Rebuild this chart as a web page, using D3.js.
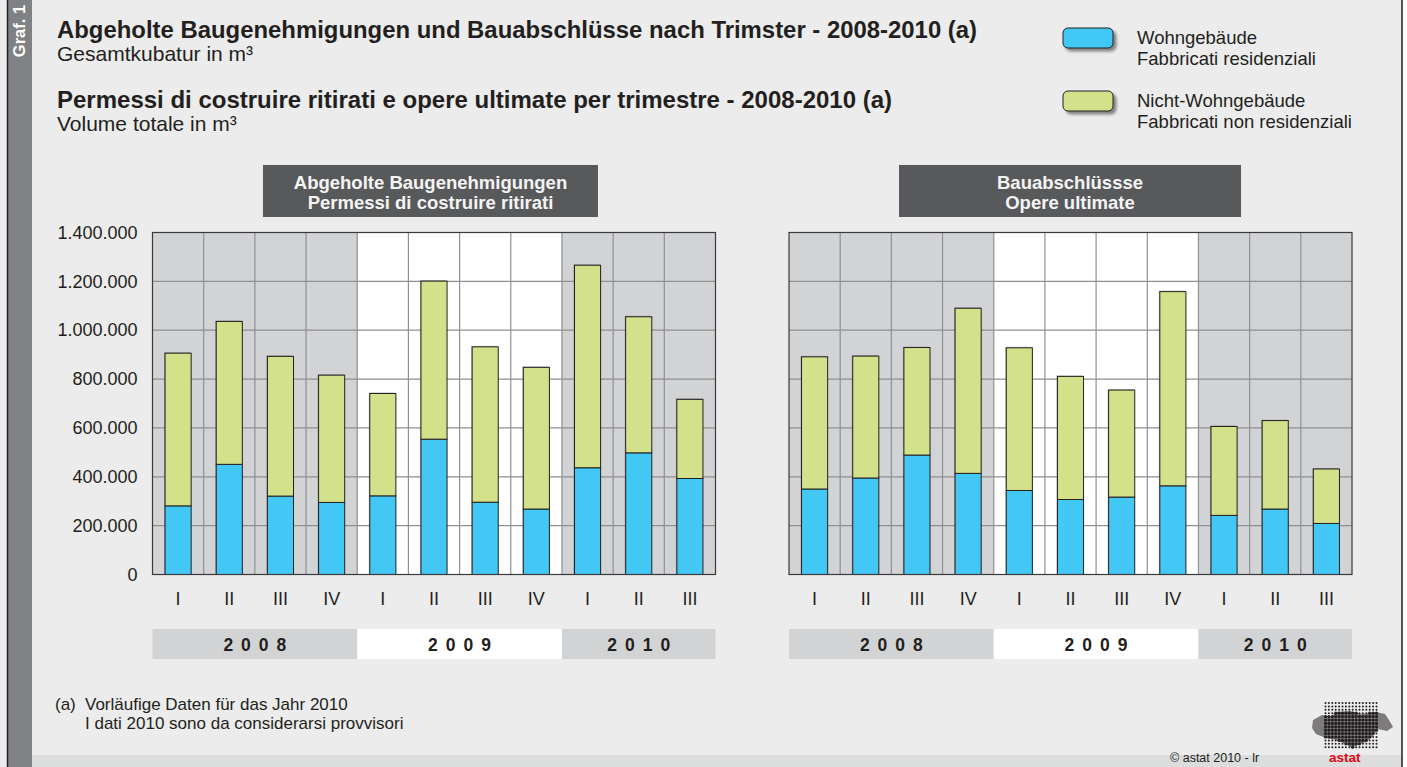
<!DOCTYPE html>
<html>
<head>
<meta charset="utf-8">
<script src="https://cdnjs.cloudflare.com/ajax/libs/d3/7.8.5/d3.min.js"></script>
<style>
  body { margin: 0; background: #ffffff; }
  svg { display: block; font-family: "Liberation Sans", Arial, sans-serif; }
</style>
</head>
<body>
<svg id="chart" width="1407" height="767"></svg>
<script>
// quarters and years
const quarters = ["I", "II", "III", "IV", "I", "II", "III", "IV", "I", "II", "III"]
const years = ["2008", "2009", "2010"]
const quartersPerYear = [4, 4, 3]

// Abgeholte Baugenehmigungen / Permessi di costruire ritirati (m³)
const permitsRes = [281000, 451000, 321000, 295000, 322000, 554000, 296000, 268000, 437000, 498000, 393000]
const permitsNonRes = [625000, 585000, 572000, 521000, 419000, 647000, 636000, 580000, 829000, 557000, 324000]

// Bauabschlüsse / Opere ultimate (m³)
const completedRes = [350000, 395000, 489000, 414000, 344000, 307000, 317000, 363000, 242000, 268000, 209000]
const completedNonRes = [541000, 499000, 440000, 676000, 584000, 504000, 438000, 795000, 364000, 362000, 223000]

const yTicks = [0, 200000, 400000, 600000, 800000, 1000000, 1200000, 1400000]

const seriesKeys = ["res", "nonres"]
const seriesColor = {res: "#43c8f5", nonres: "#d3e28a"}
const legendLines = [
    ["Wohngebäude", "Fabbricati residenziali"],
    ["Nicht-Wohngebäude", "Fabbricati non residenziali"]
]

const panels = [
    {title: ["Abgeholte Baugenehmigungen", "Permessi di costruire ritirati"], res: permitsRes, nonres: permitsNonRes,
     x0: 152.5, x1: 715.5, box: [263, 598], axis: true},
    {title: ["Bauabschlüssse", "Opere ultimate"], res: completedRes, nonres: completedNonRes,
     x0: 789, x1: 1352, box: [899, 1241], axis: false}
]

const locale = d3.formatLocale({decimal: ",", thousands: ".", grouping: [3], currency: ["", ""]})
const fmt = locale.format(",d")

const svg = d3.select("#chart")
const W = 1407, H = 767

// frame
svg.append("rect").attr("width", W).attr("height", H).attr("fill", "#ebeceb")
svg.append("rect").attr("x", 8).attr("y", 0).attr("width", 24).attr("height", H).attr("fill", "#808184")
svg.append("rect").attr("x", 32).attr("y", 755).attr("width", 1370).attr("height", 12).attr("fill", "#dcdddd")
svg.append("line").attr("x1", 7.5).attr("x2", 7.5).attr("y1", 0).attr("y2", H).attr("stroke", "#231f20").attr("stroke-width", 1.5)
svg.append("line").attr("x1", 1402).attr("x2", 1402).attr("y1", 0).attr("y2", H).attr("stroke", "#231f20").attr("stroke-width", 1.5)
svg.append("rect").attr("x", 1403).attr("y", 0).attr("width", 4).attr("height", H).attr("fill", "#ffffff")

svg.append("text")
    .attr("transform", "translate(25,31) rotate(-90)")
    .attr("text-anchor", "middle")
    .attr("fill", "#ffffff").attr("font-weight", "bold").attr("font-size", 16.5)
    .text("Graf. 1")

// titles
const titles = [
    {t: "Abgeholte Baugenehmigungen und Bauabschlüsse nach Trimster - 2008-2010 (a)", y: 38, bold: true, size: 23.9},
    {t: "Gesamtkubatur in m³", y: 61, bold: false, size: 21},
    {t: "Permessi di costruire ritirati e opere ultimate per trimestre - 2008-2010 (a)", y: 108, bold: true, size: 24},
    {t: "Volume totale in m³", y: 131, bold: false, size: 21}
]
svg.selectAll(".title").data(titles).join("text")
    .attr("class", "title")
    .attr("x", 57).attr("y", d => d.y)
    .attr("fill", "#231f20")
    .attr("font-weight", d => d.bold ? "bold" : "normal")
    .attr("font-size", d => d.size)
    .text(d => d.t)

// legend
const defs = svg.append("defs")
const shadow = defs.append("filter").attr("id", "shadow").attr("x", "-20%").attr("y", "-30%").attr("width", "150%").attr("height", "180%")
shadow.append("feDropShadow").attr("dx", 3).attr("dy", 3).attr("stdDeviation", 1.5).attr("flood-color", "#000").attr("flood-opacity", 0.45)

const legend = svg.selectAll(".legend").data(seriesKeys).join("g")
    .attr("class", "legend")
    .attr("transform", (d, i) => "translate(1063," + (28 + i * 63) + ")")
legend.append("rect")
    .attr("width", 50).attr("height", 20).attr("rx", 5)
    .attr("fill", d => seriesColor[d]).attr("stroke", "#231f20").attr("stroke-width", 1)
    .attr("filter", "url(#shadow)")
legend.each(function (d, i) {
    d3.select(this).selectAll("text").data(legendLines[i]).join("text")
        .attr("x", 74).attr("y", (t, j) => 16 + j * 21)
        .attr("font-size", 18.5).attr("fill", "#231f20")
        .text(t => t)
})

// y scale shared
const y = d3.scaleLinear().domain([0, 1400000]).range([574.5, 232.5])

// year segments
let start = 0
const yearSpans = years.map((yr, i) => {
    const s = {year: yr, from: start, to: start + quartersPerYear[i], shade: i % 2 === 0}
    start += quartersPerYear[i]
    return s
})

panels.forEach(p => {
    const g = svg.append("g")
    const x = d3.scaleBand().domain(d3.range(quarters.length)).range([p.x0, p.x1]).padding(0)
    const bw = x.bandwidth() * 0.51

    // header box
    g.append("rect")
        .attr("x", p.box[0]).attr("y", 165).attr("width", p.box[1] - p.box[0]).attr("height", 52)
        .attr("fill", "#58595b")
    g.selectAll(".head").data(p.title).join("text")
        .attr("x", (p.box[0] + p.box[1]) / 2).attr("y", (d, i) => 189 + i * 20)
        .attr("text-anchor", "middle").attr("fill", "#f4f4f4")
        .attr("font-weight", "bold").attr("font-size", 18.5)
        .text(d => d)

    // column shading
    g.selectAll(".shade").data(yearSpans).join("rect")
        .attr("x", d => x(d.from))
        .attr("width", d => x(d.to - 1) + x.bandwidth() - x(d.from))
        .attr("y", y(1400000)).attr("height", y(0) - y(1400000))
        .attr("fill", d => d.shade ? "#d2d3d5" : "#ffffff")

    // grid
    g.selectAll(".hgrid").data(yTicks).join("line")
        .attr("x1", p.x0).attr("x2", p.x1)
        .attr("y1", d => y(d)).attr("y2", d => y(d))
        .attr("stroke", "#8f9092").attr("stroke-width", 1.2)
    g.selectAll(".vgrid").data(d3.range(1, quarters.length)).join("line")
        .attr("x1", d => x(d)).attr("x2", d => x(d))
        .attr("y1", y(1400000)).attr("y2", y(0))
        .attr("stroke", "#8f9092").attr("stroke-width", 1.2)

    // bars
    const rows = quarters.map((q, i) => ({i: i, res: p.res[i], nonres: p.nonres[i]}))
    const stacked = d3.stack().keys(seriesKeys)(rows)
    const layer = g.selectAll(".layer").data(stacked).join("g")
        .attr("fill", d => seriesColor[d.key])
    layer.selectAll(".barshadow").data(d => d).join("rect")
        .attr("x", d => x(d.data.i) + (x.bandwidth() - bw) / 2 - 1)
        .attr("y", d => y(d[1]) - 1)
        .attr("width", bw).attr("height", d => y(d[0]) - y(d[1]))
        .attr("fill", "#555").attr("opacity", 0.35)
    layer.selectAll(".bar").data(d => d).join("rect")
        .attr("x", d => x(d.data.i) + (x.bandwidth() - bw) / 2)
        .attr("y", d => y(d[1]))
        .attr("width", bw).attr("height", d => y(d[0]) - y(d[1]))
        .attr("stroke", "#231f20").attr("stroke-width", 1)

    // frame
    g.append("rect")
        .attr("x", p.x0).attr("y", y(1400000)).attr("width", p.x1 - p.x0).attr("height", y(0) - y(1400000))
        .attr("fill", "none").attr("stroke", "#3a3a3c").attr("stroke-width", 1.2)

    // quarter labels
    g.selectAll(".q").data(quarters).join("text")
        .attr("x", (d, i) => x(i) + x.bandwidth() / 2).attr("y", 605)
        .attr("text-anchor", "middle").attr("font-size", 18).attr("fill", "#231f20")
        .text(d => d)

    // year band
    g.selectAll(".yband").data(yearSpans).join("rect")
        .attr("x", d => x(d.from))
        .attr("width", d => x(d.to - 1) + x.bandwidth() - x(d.from))
        .attr("y", 629).attr("height", 30)
        .attr("fill", d => d.shade ? "#d2d3d5" : "#ffffff")
    g.selectAll(".ylab").data(yearSpans).join("text")
        .attr("x", d => (x(d.from) + x(d.to - 1) + x.bandwidth()) / 2 + 4)
        .attr("y", 651)
        .attr("text-anchor", "middle").attr("font-weight", "bold").attr("font-size", 17.5)
        .attr("letter-spacing", 8).attr("fill", "#231f20")
        .text(d => d.year)

    if (p.axis) {
        const axis = d3.axisLeft(y).tickValues(yTicks).tickFormat(fmt).tickSize(0).tickPadding(15)
        const ga = g.append("g").attr("transform", "translate(" + p.x0 + ",0)").call(axis)
        ga.select(".domain").remove()
        ga.selectAll("text").attr("font-size", 18).attr("fill", "#231f20")
            .attr("font-family", "'Liberation Sans', Arial, sans-serif")
    }
})

// footnote
svg.append("text").attr("x", 55).attr("y", 710).attr("font-size", 17).attr("fill", "#231f20").text("(a)")
svg.selectAll(".note").data(["Vorläufige Daten für das Jahr 2010", "I dati 2010 sono da considerarsi provvisori"]).join("text")
    .attr("x", 85).attr("y", (d, i) => 710 + i * 19)
    .attr("font-size", 17).attr("fill", "#231f20")
    .text(d => d)

// copyright + logo
svg.append("text").attr("x", 1170).attr("y", 762).attr("font-size", 12.5).attr("fill", "#231f20").text("©  astat 2010 - lr")
const logo = svg.append("g")
const blob = [[1313, 720], [1322, 715], [1331, 717], [1336, 712], [1350, 711], [1362, 714], [1376, 712], [1385, 714],
              [1389, 720], [1393, 727], [1387, 731], [1378, 729], [1372, 737], [1366, 742], [1358, 745], [1352, 748],
              [1346, 744], [1336, 740], [1326, 738], [1316, 734], [1312, 728]]
logo.append("path")
    .attr("d", "M" + blob.map(d => d.join(",")).join("L") + "Z")
    .attr("fill", "#231f20").attr("opacity", 0.55)
const dots = []
d3.range(1325.5, 1379, 3.4).forEach(cx => d3.range(703, 748, 3.4).forEach(cy => dots.push([cx, cy])))
logo.selectAll("circle").data(dots).join("circle")
    .attr("cx", d => d[0]).attr("cy", d => d[1])
    .attr("r", d => d3.polygonContains(blob, d) ? 1.6 : 1)
    .attr("fill", "#231f20")
svg.append("text").attr("x", 1329).attr("y", 762).attr("font-size", 13.5).attr("font-weight", "bold")
    .attr("fill", "#e30613").text("astat")
</script>
</body>
</html>
